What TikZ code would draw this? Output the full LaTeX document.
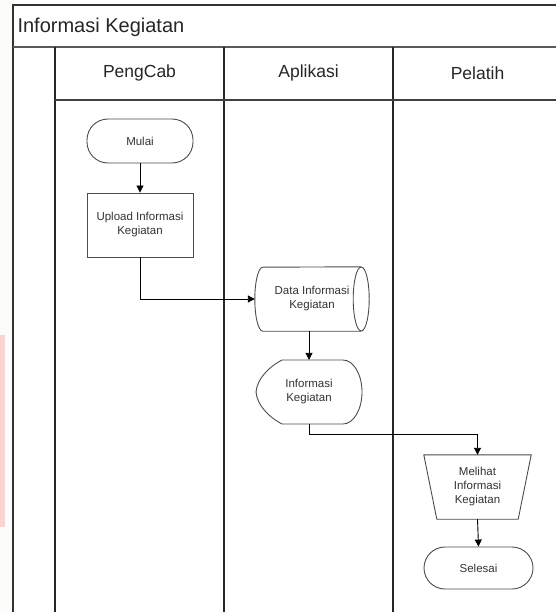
\documentclass[tikz,border=0pt]{standalone}
\usepackage{fontspec}
\setmainfont{Liberation Sans}
\usetikzlibrary{arrows.meta}
\definecolor{margintint}{RGB}{252,252,250}
\definecolor{pinkstrip}{RGB}{255,210,210}
\begin{document}
\begin{tikzpicture}[x=1pt,y=-1pt,
  lane/.style={line width=1.6pt, draw=black!85},
  outline/.style={draw=black!70, line width=0.9pt},
  flow/.style={draw=black, line width=0.9pt, -{Triangle[length=7pt,width=7pt]}},
  lbl/.style={font=\fontsize{11.5}{14}\selectfont, text=black!80, align=center, inner sep=0pt},
  head/.style={font=\fontsize{17.5}{20}\selectfont, text=black!85}
]
\useasboundingbox (0,0) rectangle (556,612);
\fill[white] (0,0) rectangle (556,612);
\fill[margintint] (0,0) rectangle (13,612);
\fill[pinkstrip] (0,335) rectangle (5,527);

% pool frame and lanes
\draw[line width=1.2pt, black!80] (556,5) -- (13,5) -- (13,612);
\draw[line width=1.8pt, black!65] (13,47) -- (556,47);
\draw[lane] (55,47) -- (55,612);
\draw[lane] (224,47) -- (224,612);
\draw[lane] (393,47) -- (393,612);
\draw[line width=1.6pt, black!75] (55,100) -- (556,100);

\node[anchor=west, font=\fontsize{20}{24}\selectfont, text=black!85] (pool) at (14,27) {Informasi Kegiatan};
\node[head] (hpengcab) at (139.5,73) {PengCab};
\node[head] (haplikasi) at (308.5,73) {Aplikasi};
\node[head] (hpelatih) at (477.5,73) {Pelatih};

% PengCab
\node[lbl, outline, rounded corners=21pt, minimum width=106pt, minimum height=44pt] (mulai) at (140,141) {Mulai};
\node[lbl, outline, minimum width=106pt, minimum height=64pt] (upload) at (140,225) {Upload Informasi\\Kegiatan};

% Aplikasi: stored data (cylinder)
\node[lbl, minimum width=114pt, minimum height=64pt] (data) at (312,299) {Data Informasi\\Kegiatan};
\draw[outline] ([xshift=-8pt]data.south east) -- ([xshift=8pt]data.south west)
  arc[start angle=270, end angle=90, x radius=8pt, y radius=32pt]
  -- ([xshift=-8pt]data.north east);
\draw[outline] ([xshift=-8pt]data.east) ellipse [x radius=8pt, y radius=32pt];

% Aplikasi: display
\node[lbl, minimum width=106pt, minimum height=64pt] (disp) at (309,392) {Informasi\\Kegiatan};
\draw[outline] (282,360) -- (343,360)
  arc[start angle=90, end angle=-90, x radius=19pt, y radius=32pt]
  -- (282,424) .. controls (267,416) and (257,404) .. (256,392)
  .. controls (257,380) and (267,368) .. (282,360) -- cycle;

% Pelatih: manual operation and end
\node[lbl, minimum width=107pt, minimum height=64pt] (melihat) at (477.5,487) {Melihat\\Informasi\\Kegiatan};
\draw[outline] (melihat.north west) -- (melihat.north east)
  -- ([xshift=-13pt]melihat.south east) -- ([xshift=13pt]melihat.south west) -- cycle;
\node[lbl, outline, rounded corners=21pt, minimum width=109pt, minimum height=42pt] (selesai) at (478.5,568) {Selesai};

% connectors
\draw[flow] (mulai.south) -- (upload.north);
\draw[flow] (upload.south) |- (data.west);
\draw[flow] (data.south -| disp.north) -- (disp.north);
\draw[flow] (disp.south) -- ++(0,10) -| (melihat.north);
\draw[flow] (melihat.south) -- (selesai.north);
\end{tikzpicture}
\end{document}
